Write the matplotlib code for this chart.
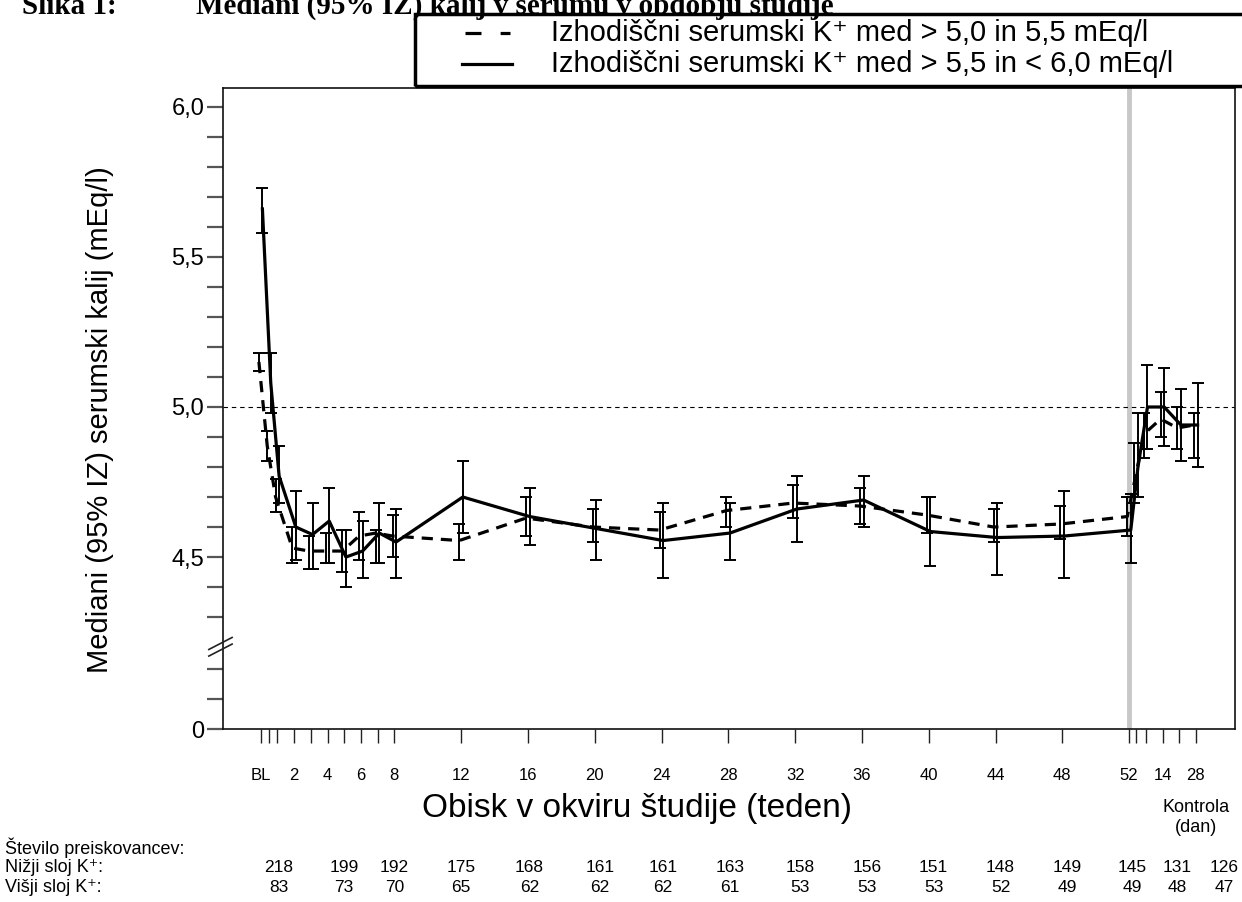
import numpy as np
import matplotlib
matplotlib.use('Agg')
import matplotlib.pyplot as plt
import matplotlib.transforms as mtrans
from matplotlib.patches import Rectangle
from matplotlib.lines import Line2D

plt.rcParams['font.family'] = ['Liberation Sans', 'DejaVu Sans']

W, H = 1242, 902

# visits: BL, day 3, weeks 1..8, 12..52, then follow-up days 3, 7, 14, 21, 28
visit_wk = [0, 0.5, 1, 2, 3, 4, 5, 6, 7, 8, 12, 16, 20, 24, 28, 32, 36, 40,
            44, 48, 52, 52 + 3 / 7, 53, 54, 55, 56]
visit_lbl = ['BL', '', '', '2', '', '4', '', '6', '', '8', '12', '16', '20',
             '24', '28', '32', '36', '40', '44', '48', '52', '', '', '14', '',
             '28']

# baseline K+ > 5.0 to 5.5 (dashed)
low_med = [5.15, 4.87, 4.70, 4.53, 4.52, 4.52, 4.52, 4.57, 4.58, 4.57, 4.555,
           4.63, 4.60, 4.59, 4.655, 4.68, 4.67, 4.64, 4.60, 4.61, 4.635, 4.75,
           4.91, 4.96, 4.93, 4.94]
low_lo = [5.12, 4.82, 4.65, 4.48, 4.46, 4.48, 4.45, 4.49, 4.48, 4.50, 4.49,
          4.57, 4.55, 4.53, 4.60, 4.63, 4.61, 4.58, 4.55, 4.56, 4.57, 4.68,
          4.83, 4.90, 4.86, 4.83]
low_hi = [5.18, 4.92, 4.76, 4.60, 4.57, 4.58, 4.59, 4.65, 4.59, 4.64, 4.61,
          4.70, 4.66, 4.65, 4.70, 4.74, 4.73, 4.70, 4.66, 4.67, 4.70, 4.88,
          4.98, 5.05, 5.00, 4.98]

# baseline K+ > 5.5 to < 6.0 (solid)
high_med = [5.66, 5.08, 4.77, 4.60, 4.575, 4.62, 4.50, 4.52, 4.58, 4.55, 4.70,
            4.635, 4.595, 4.555, 4.58, 4.66, 4.69, 4.585, 4.565, 4.57, 4.59,
            4.80, 5.00, 5.00, 4.94, 4.94]
high_lo = [5.58, 4.98, 4.68, 4.49, 4.46, 4.48, 4.40, 4.43, 4.48, 4.43, 4.58,
           4.54, 4.49, 4.43, 4.49, 4.55, 4.60, 4.47, 4.44, 4.43, 4.48, 4.70,
           4.86, 4.87, 4.82, 4.80]
high_hi = [5.73, 5.18, 4.87, 4.72, 4.68, 4.73, 4.59, 4.62, 4.68, 4.66, 4.82,
           4.73, 4.69, 4.68, 4.68, 4.77, 4.77, 4.70, 4.68, 4.72, 4.71, 4.98,
           5.14, 5.13, 5.06, 5.08]

# number of subjects
n_wk = [1.1, 5, 8, 12, 16.1, 20.3, 24.1, 28.1, 32.3, 36.3, 40.3, 44.3, 48.3,
        52.2, 54.9, 57.7]
n_low = [218, 199, 192, 175, 168, 161, 161, 163, 158, 156, 151, 148, 149, 145,
         131, 126]
n_high = [83, 73, 70, 65, 62, 62, 62, 61, 53, 53, 53, 52, 49, 49, 48, 47]

legend_txt = ['Izhodiščni serumski K⁺ med > 5,0 in 5,5 mEq/l',
              'Izhodiščni serumski K⁺ med > 5,5 in < 6,0 mEq/l']


def fx(px):
    return px / W


def fy(py):
    return 1 - py / H


fig = plt.figure(figsize=(W / 100, H / 100), dpi=100)
ax = fig.add_axes([fx(223), fy(729), fx(1235) - fx(223), fy(88) - fy(729)])

ymin, ymax = 3.927, 6.063
ax.set_xlim(-2.26, 58.34)
ax.set_ylim(ymin, ymax)

ax.axvline(52, color='#c8c8c8', lw=3.5, zorder=1)
ax.axhline(5.0, color='black', lw=0.8, dashes=(4, 3.5), zorder=2)

x = np.array(visit_wk)
xl = x - 0.11
xh = x + 0.1

ax.errorbar(xl, low_med,
            yerr=[np.subtract(low_med, low_lo), np.subtract(low_hi, low_med)],
            fmt='none', ecolor='black', elinewidth=1.4, capsize=4.5,
            capthick=1.4, zorder=3)
ax.errorbar(xh, high_med,
            yerr=[np.subtract(high_med, high_lo),
                  np.subtract(high_hi, high_med)],
            fmt='none', ecolor='black', elinewidth=1.4, capsize=4.5,
            capthick=1.4, zorder=3)
ax.plot(xl, low_med, color='black', lw=2.3, dashes=(3.5, 2.5), zorder=4)
ax.plot(xh, high_med, color='black', lw=2.3, zorder=4)

# x axis
ax.set_xticks(visit_wk)
ax.set_xticklabels(visit_lbl, fontsize=12)
ax.tick_params(axis='x', length=10, width=1.0, color='#222222', pad=18)

# y axis
upper = np.round(np.arange(4.3, 6.001, 0.1), 2)
yt = [ymin, ymin + 0.1, ymin + 0.2] + list(upper)
named = {4.5: '4,5', 5.0: '5,0', 5.5: '5,5', 6.0: '6,0'}
ylab = ['0', '', ''] + [named.get(float(v), '') for v in upper]
ax.set_yticks(yt)
ax.set_yticklabels(ylab, fontsize=17)
ax.tick_params(axis='y', length=11.5, width=1.6, color='#555555', pad=2)

for sp in ax.spines.values():
    sp.set_linewidth(1.2)
    sp.set_color('#111111')

# axis break mark
yb = 4.205
for dy in (0.0, 0.022):
    ax.plot([-0.014, 0.009], [yb - 0.035 + dy, yb + 0.005 + dy],
            transform=ax.get_yaxis_transform(), color='#222222', lw=1.2,
            clip_on=False, zorder=6)

# labels
fig.text(fx(100), fy(420), 'Mediani (95% IZ) serumski kalij (mEq/l)',
         rotation=90, ha='center', va='center', fontsize=21)
fig.text(fx(637), fy(808), 'Obisk v okviru študije (teden)', ha='center',
         va='center', fontsize=24)
bt = mtrans.blended_transform_factory(ax.transData, fig.transFigure)
fig.text(56, fy(807), 'Kontrola', transform=bt, ha='center', va='center',
         fontsize=13)
fig.text(56, fy(828), '(dan)', transform=bt, ha='center', va='center',
         fontsize=13)

# title (clipped at top of page)
fig.text(fx(22), fy(14), 'Slika 1:', family='Liberation Serif',
         weight='bold', fontsize=21, va='baseline')
fig.text(fx(196), fy(14), 'Mediani (95% IZ) kalij v serumu v obdobju študije',
         family='Liberation Serif', weight='bold', fontsize=21, va='baseline')

# legend box
fig.patches.append(Rectangle((fx(415), fy(86)), fx(1250) - fx(415),
                             fy(14) - fy(86), transform=fig.transFigure,
                             fill=False, lw=2.5, edgecolor='black',
                             clip_on=False))
fig.lines.append(Line2D([fx(465), fx(510)], [fy(33), fy(33)],
                        transform=fig.transFigure, color='black', lw=2.3,
                        dashes=(5, 6)))
fig.lines.append(Line2D([fx(462), fx(512)], [fy(64), fy(64)],
                        transform=fig.transFigure, color='black', lw=2.3))
fig.text(fx(551), fy(33), legend_txt[0], va='center', fontsize=21)
fig.text(fx(551), fy(64), legend_txt[1], va='center', fontsize=21)

# number of subjects table
fig.text(fx(5), fy(848), 'Število preiskovancev:', va='center', fontsize=13)
fig.text(fx(5), fy(868), 'Nižji sloj K⁺:', va='center', fontsize=13)
fig.text(fx(5), fy(888), 'Višji sloj K⁺:', va='center', fontsize=13)
for xp, a, b in zip(n_wk, n_low, n_high):
    fig.text(xp, fy(868), str(a), transform=bt, ha='center', va='center',
             fontsize=12.5)
    fig.text(xp, fy(888), str(b), transform=bt, ha='center', va='center',
             fontsize=12.5)

fig.savefig('out.png', dpi=100)
